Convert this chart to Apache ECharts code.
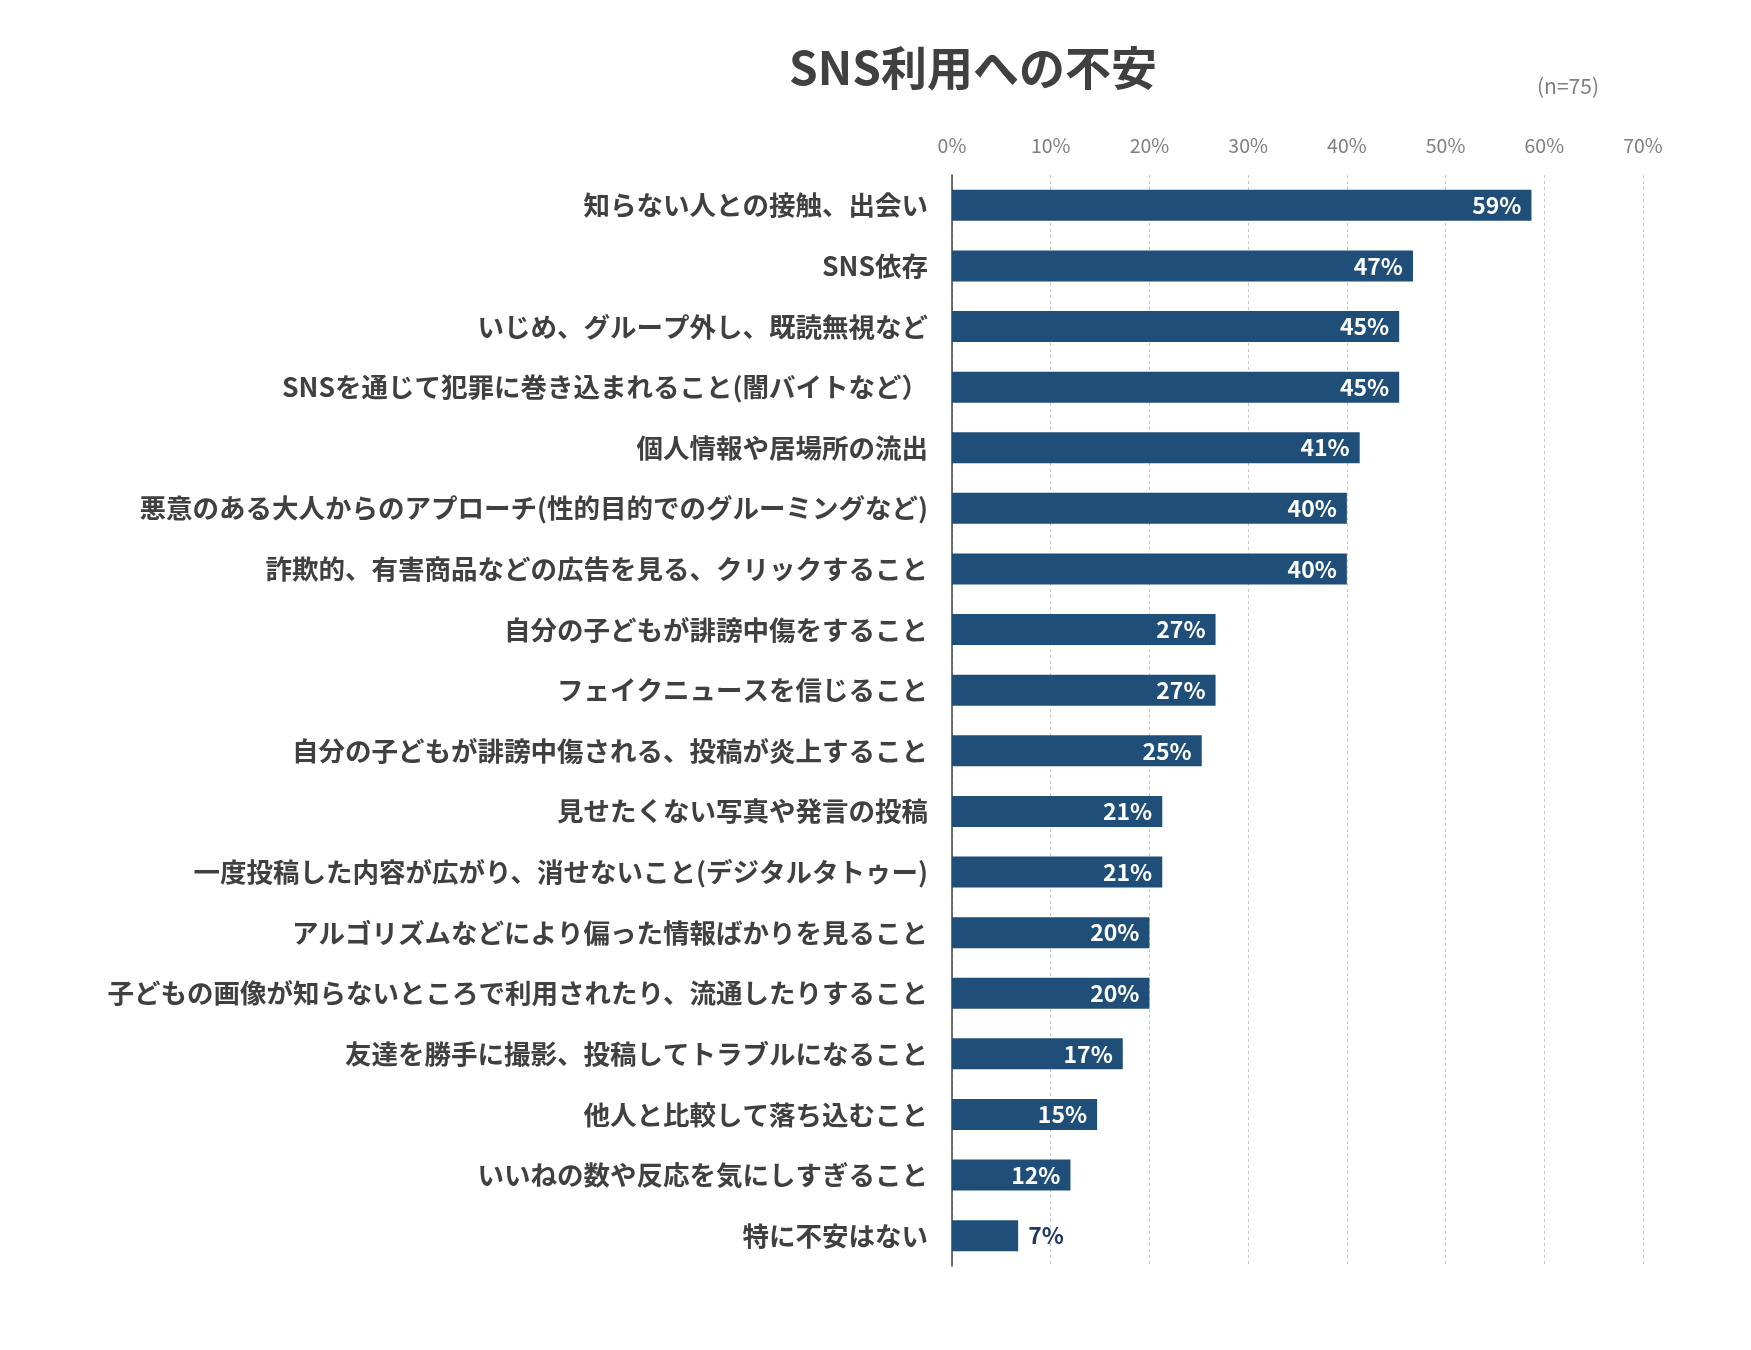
<!DOCTYPE html>
<html>
<head>
<meta charset="utf-8">
<script src="https://cdn.jsdelivr.net/npm/echarts@6/dist/echarts.min.js"></script>
<style>
html,body{margin:0;padding:0;background:#fff;}
#main{width:1751px;height:1350px;}
</style>
</head>
<body>
<div id="main"></div>
<script>
const titleText = 'SNS利用への不安';
const sampleNote = '(n=75)';
const categories = [
  '知らない人との接触、出会い',
  'SNS依存',
  'いじめ、グループ外し、既読無視など',
  'SNSを通じて犯罪に巻き込まれること(闇バイトなど）',
  '個人情報や居場所の流出',
  '悪意のある大人からのアプローチ(性的目的でのグルーミングなど)',
  '詐欺的、有害商品などの広告を見る、クリックすること',
  '自分の子どもが誹謗中傷をすること',
  'フェイクニュースを信じること',
  '自分の子どもが誹謗中傷される、投稿が炎上すること',
  '見せたくない写真や発言の投稿',
  '一度投稿した内容が広がり、消せないこと(デジタルタトゥー)',
  'アルゴリズムなどにより偏った情報ばかりを見ること',
  '子どもの画像が知らないところで利用されたり、流通したりすること',
  '友達を勝手に撮影、投稿してトラブルになること',
  '他人と比較して落ち込むこと',
  'いいねの数や反応を気にしすぎること',
  '特に不安はない'
];
const values = [58.7, 46.7, 45.3, 45.3, 41.3, 40.0, 40.0, 26.7, 26.7, 25.3, 21.3, 21.3, 20.0, 20.0, 17.3, 14.7, 12.0, 6.7];
const xTicks = [0, 10, 20, 30, 40, 50, 60, 70];

const font = '"Noto Sans CJK JP", "Noto Sans", sans-serif';
const chart = echarts.init(document.getElementById('main'));

const seriesData = values.map(v => {
  const small = v < 10;
  return {
    value: v,
    label: small
      ? { position: 'right', color: '#1f3864', distance: 10 }
      : { position: 'insideRight', color: '#ffffff', distance: 10 }
  };
});

chart.setOption({
  backgroundColor: '#ffffff',
  animation: false,
  title: [
    {
      text: titleText,
      left: 968, top: 40, textAlign: 'center',
      textStyle: { fontFamily: font, fontSize: 46, fontWeight: 'bold', color: '#404040' }
    },
    {
      text: sampleNote,
      left: 1563, top: 71, textAlign: 'center',
      textStyle: { fontFamily: font, fontSize: 21, fontWeight: 'normal', color: '#7f7f7f' }
    }
  ],
  grid: { left: 952, right: 108, top: 175, bottom: 84, containLabel: false },
  xAxis: {
    type: 'value',
    position: 'top',
    min: xTicks[0],
    max: xTicks[xTicks.length - 1],
    interval: 10,
    axisLine: { show: false },
    axisTick: { show: false },
    axisLabel: {
      formatter: v => v + '%',
      fontFamily: font, fontSize: 19.5, color: '#7f7f7f', margin: 20
    },
    splitLine: { show: true, lineStyle: { color: '#c8c8c8', width: 1, type: [3, 3] } }
  },
  yAxis: {
    type: 'category',
    data: categories,
    inverse: true,
    axisLine: { show: true, lineStyle: { color: '#404040', width: 1.5 } },
    axisTick: { show: false },
    axisLabel: {
      fontFamily: font, fontSize: 26.5, fontWeight: 'bold', color: '#404040', margin: 24
    }
  },
  series: [{
    type: 'bar',
    data: seriesData,
    barWidth: 31,
    itemStyle: { color: '#1f4e79' },
    label: {
      show: true,
      formatter: p => Math.round(p.value) + '%',
      fontFamily: font, fontSize: 23, fontWeight: 'bold'
    }
  }]
});
</script>
</body>
</html>
